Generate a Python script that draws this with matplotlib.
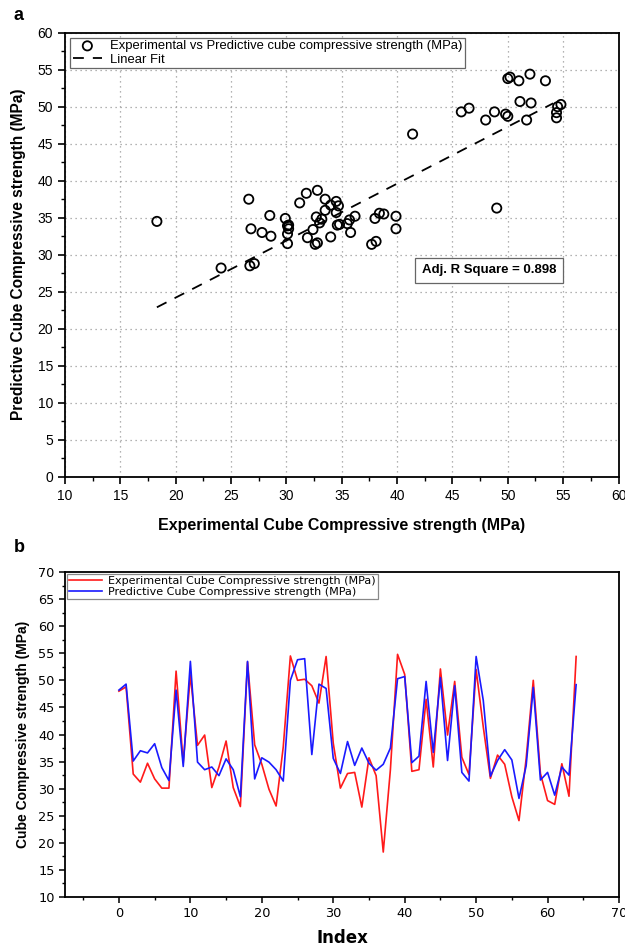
import numpy as np
import matplotlib
matplotlib.use("Agg")
import matplotlib.pyplot as plt
from matplotlib.ticker import MultipleLocator

# ---- data ----
index = list(range(65))
experimental = [48.0, 48.8, 32.7, 31.2, 34.7, 31.8, 30.1, 30.1, 51.7, 34.8,
                51.0, 38.0, 39.9, 30.2, 34.0, 38.8, 30.2, 26.7, 53.4, 38.1,
                34.5, 29.9, 26.8, 37.7, 54.5, 50.0, 50.2, 49.0, 45.8, 54.4,
                38.4, 30.1, 32.8, 33.0, 26.6, 35.7, 32.4, 18.3, 33.5, 54.8,
                51.1, 33.2, 33.5, 46.5, 34.0, 52.1, 39.9, 49.8, 35.8, 32.6,
                52.0, 41.4, 31.9, 36.2, 34.5, 28.5, 24.1, 35.5, 50.0, 32.8,
                27.8, 27.1, 34.6, 28.6, 54.4]
predictive = [48.2, 49.3, 35.1, 37.0, 36.6, 38.3, 33.9, 31.5, 48.2, 34.1,
              53.5, 34.9, 33.5, 34.0, 32.4, 35.5, 33.5, 28.5, 53.5, 31.8,
              35.7, 34.9, 33.5, 31.4, 50.0, 53.8, 54.0, 36.3, 49.3, 48.5,
              35.6, 32.8, 38.7, 34.3, 37.5, 34.7, 33.4, 34.5, 37.5, 50.3,
              50.7, 34.8, 36.0, 49.8, 36.7, 50.5, 35.2, 49.0, 33.0, 31.4,
              54.4, 46.3, 32.3, 35.2, 37.2, 35.3, 28.2, 34.2, 48.7, 31.6,
              33.0, 28.8, 34.0, 32.5, 49.2]
# linear fit
fit_slope = 0.770
fit_intercept = 8.8
fit_x_range = [18.3, 54.1]
adj_r2_text = "Adj. R Square = 0.898"

exp = np.array(experimental)
pred = np.array(predictive)

W, H = 625, 952
fig = plt.figure(figsize=(W / 100, H / 100), dpi=100)

ARIAL = "Liberation Sans"

# ---------------- panel a ----------------
ax1 = fig.add_axes([65 / W, 1 - 476.7 / H, (618.5 - 65) / W, (476.7 - 32.7) / H])
ax1.scatter(exp, pred, s=44, facecolors="none", edgecolors="black", linewidths=1.3,
            label="Experimental vs Predictive cube compressive strength (MPa)", zorder=3)
xf = np.array(fit_x_range)
ax1.plot(xf, fit_slope * xf + fit_intercept, color="black", lw=1.3, ls=(0, (6, 5)),
         label="Linear Fit", zorder=2)
ax1.set_xlim(10, 60)
ax1.set_ylim(0, 60)
ax1.xaxis.set_major_locator(MultipleLocator(5))
ax1.xaxis.set_minor_locator(MultipleLocator(2.5))
ax1.yaxis.set_major_locator(MultipleLocator(5))
ax1.yaxis.set_minor_locator(MultipleLocator(2.5))
ax1.grid(True, which="major", color="#9a9a9a", lw=0.9, ls=(0, (1, 3)))
ax1.tick_params(which="major", direction="out", length=5, width=1.2, labelsize=10,
                top=False, right=False)
ax1.tick_params(which="minor", direction="out", length=3, width=1.0, top=False, right=False)
for lab in ax1.get_xticklabels() + ax1.get_yticklabels():
    lab.set_fontfamily(ARIAL)
for sp in ax1.spines.values():
    sp.set_linewidth(1.3)
ax1.set_xlabel("Experimental Cube Compressive strength (MPa)", fontsize=11.5,
               fontweight="bold", family=ARIAL, labelpad=11)
ax1.set_ylabel("Predictive Cube Compressive strength (MPa)", fontsize=11.2,
               fontweight="bold", family=ARIAL, labelpad=8)
leg1 = ax1.legend(loc="upper left", bbox_to_anchor=(0.005, 0.995), frameon=True,
                  fancybox=False, edgecolor="#666666", framealpha=1,
                  prop={"family": ARIAL, "size": 9.4}, handlelength=2.2,
                  borderpad=0.2, labelspacing=0.1, handletextpad=0.6, borderaxespad=0.2)
leg1.get_frame().set_linewidth(0.9)
ax1.text(48.3, 27.9, adj_r2_text, fontsize=9.5, fontweight="bold", family=ARIAL,
         ha="center", va="center", zorder=4,
         bbox=dict(boxstyle="square,pad=0.5", fc="white", ec="#666666", lw=0.9))

# ---------------- panel b ----------------
ax2 = fig.add_axes([65 / W, 1 - 897 / H, (619 - 65) / W, (897 - 572) / H])
ax2.plot(index, experimental, color="#ff1a1a", lw=1.2,
         label="Experimental Cube Compressive strength (MPa)")
ax2.plot(index, predictive, color="#1a1aff", lw=1.2,
         label="Predictive Cube Compressive strength (MPa)")
ax2.set_xlim(-7.55, 70)
ax2.set_ylim(10, 70)
ax2.xaxis.set_major_locator(MultipleLocator(10))
ax2.xaxis.set_minor_locator(MultipleLocator(5))
ax2.yaxis.set_major_locator(MultipleLocator(5))
ax2.yaxis.set_minor_locator(MultipleLocator(2.5))
ax2.set_xticks([0, 10, 20, 30, 40, 50, 60, 70])
ax2.tick_params(which="major", direction="out", length=4, width=1.1, labelsize=9.3,
                top=False, right=False)
ax2.tick_params(which="minor", direction="out", length=2.5, width=1.0, top=False, right=False)
for sp in ax2.spines.values():
    sp.set_linewidth(1.3)
ax2.set_xlabel("Index", fontsize=12, fontweight="bold", labelpad=6)
ax2.set_ylabel("Cube Compressive strength (MPa)", fontsize=10, fontweight="bold",
               family=ARIAL, labelpad=6)
leg2 = ax2.legend(loc="upper left", bbox_to_anchor=(0.0, 1.0), frameon=True,
                  fancybox=False, edgecolor="#888888", framealpha=1,
                  prop={"size": 8.0}, handlelength=3.0,
                  borderpad=0.2, labelspacing=0.1, handletextpad=0.5, borderaxespad=0.15)
leg2.get_frame().set_linewidth(0.9)

# panel labels
fig.text(14 / W, 1 - 15 / H, "a", fontsize=13, fontweight="bold", family=ARIAL,
         ha="left", va="center")
fig.text(14 / W, 1 - 548 / H, "b", fontsize=13, fontweight="bold", family=ARIAL,
         ha="left", va="center")

fig.savefig("out.png", dpi=100)
